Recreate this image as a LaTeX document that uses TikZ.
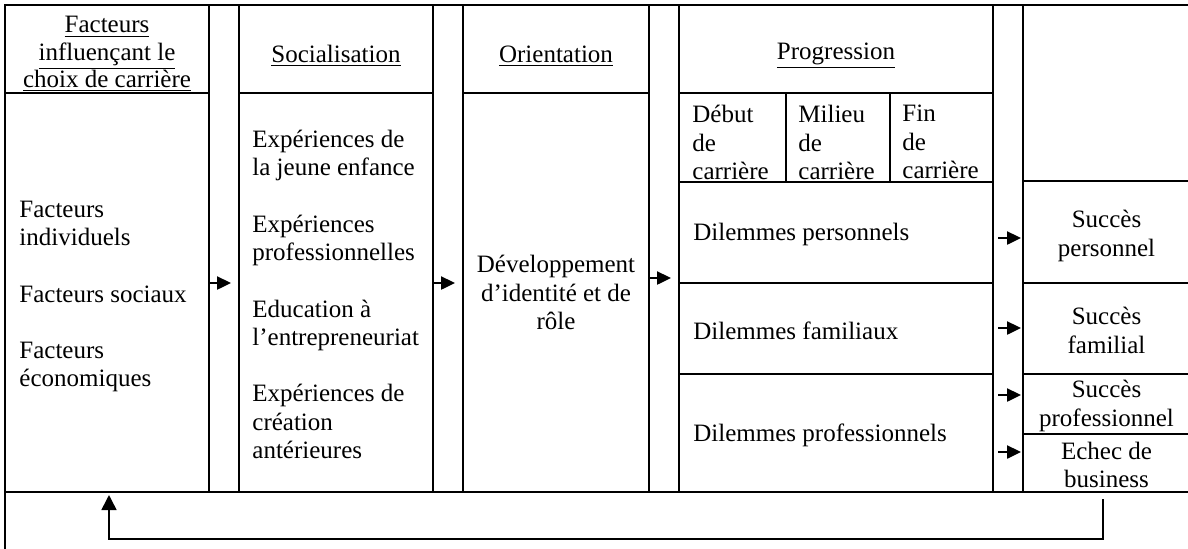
\documentclass[tikz,border=0pt]{standalone}
\usepackage{fontspec}
\setmainfont{Liberation Serif}
\usetikzlibrary{fit,arrows.meta}

\tikzset{
  box/.style={draw=black, line width=1.3pt, inner sep=0pt, outer sep=0pt},
  txt/.style={inner sep=0pt, font=\fontsize{12.5}{14.2}\selectfont},
  arr/.style={line width=1.2pt, -{Triangle[length=7pt,width=6.5pt]}},
  back/.style={line width=0.8pt, -{Triangle[length=7.5pt,width=7.5pt]}}
}

\begin{document}
\begin{tikzpicture}[x=0.5pt,y=-0.5pt]
\clip (0,0) rectangle (1188,548);
% outer frame (right and bottom sides fall outside the page)
\draw[line width=1.3pt] (5,5) rectangle (1190,552);

% columns
\node[box, fit={(5,5) (209,93)}] (fachead) {};
\node[box, fit={(5,93) (209,492)}] (facbody) {};
\node[box, fit={(239,5) (433,93)}] (sochead) {};
\node[box, fit={(239,93) (433,492)}] (socbody) {};
\node[box, fit={(463,5) (649,93)}] (orihead) {};
\node[box, fit={(463,93) (649,492)}] (oribody) {};
\node[box, fit={(679,5) (993,93)}] (proghead) {};
\node[box, fit={(679,93) (786,182)}] (deb) {};
\node[box, fit={(786,93) (890,182)}] (mil) {};
\node[box, fit={(890,93) (993,182)}] (fin) {};
\node[box, fit={(679,182) (993,283)}] (dper) {};
\node[box, fit={(679,283) (993,374)}] (dfam) {};
\node[box, fit={(679,374) (993,492)}] (dpro) {};
\node[box, fit={(1023,5) (1190,181)}] (restop) {};
\node[box, fit={(1023,181) (1190,283)}] (sper) {};
\node[box, fit={(1023,283) (1190,374)}] (sfam) {};
\node[box, fit={(1023,374) (1190,434)}] (spro) {};
\node[box, fit={(1023,434) (1190,492)}] (ech) {};
\node[box, fit={(5,492) (1190,552)}] (loop) {};

% headers
\node[txt, align=center, font=\fontsize{12.5}{13.6}\selectfont] (facheadtxt) at ([yshift=-2.5pt]fachead) {\underline{Facteurs}\\\underline{influençant le}\\\underline{choix de carrière}};
\node[txt] (socheadtxt) at ([yshift=-3.5pt]sochead) {\underline{Socialisation}};
\node[txt] (oriheadtxt) at ([yshift=-3.5pt]orihead) {\underline{Orientation}};
\node[txt] (progheadtxt) at ([yshift=-3.5pt]proghead) {\underline{Progression}};

% career stages
\node[txt, align=left, anchor=north west] (debtxt) at ([xshift=6.5pt,yshift=-6pt]deb.north west) {Début\\de\\carrière};
\node[txt, align=left, anchor=north west] (miltxt) at ([xshift=6pt,yshift=-6pt]mil.north west) {Milieu\\de\\carrière};
\node[txt, align=left, anchor=north west] (fintxt) at ([xshift=6pt,yshift=-6pt]fin.north west) {Fin\\de\\carrière};

% bodies
\node[txt, align=left, anchor=west] (facbodytxt) at ([xshift=7pt,yshift=-2pt]facbody.west) {Facteurs\\individuels\\[14pt]Facteurs sociaux\\[14pt]Facteurs\\économiques};
\node[txt, align=left, anchor=west] (socbodytxt) at ([xshift=6.5pt,yshift=-1pt]socbody.west) {Expériences de\\la jeune enfance\\[14pt]Expériences\\professionnelles\\[14pt]Education à\\l’entrepreneuriat\\[14pt]Expériences de\\création\\antérieures};
\node[txt, align=center] (oribodytxt) at (oribody) {Développement\\d’identité et de\\rôle};

\node[txt, anchor=west] (dpertxt) at ([xshift=7pt,yshift=-1pt]dper.west) {Dilemmes personnels};
\node[txt, anchor=west] (dfamtxt) at ([xshift=7pt,yshift=-1pt]dfam.west) {Dilemmes familiaux};
\node[txt, anchor=west] (dprotxt) at ([xshift=7pt,yshift=-1pt]dpro.west) {Dilemmes professionnels};

\node[txt, align=center] (spertxt) at ([yshift=-2pt]sper) {Succès\\personnel};
\node[txt, align=center] (sfamtxt) at ([yshift=-1pt]sfam) {Succès\\familial};
\node[txt, align=center] (sprotxt) at ([yshift=-1pt]spro) {Succès\\professionnel};
\node[txt, align=center] (echtxt) at ([yshift=-1pt]ech) {Echec de\\business};

% arrows between stages
\draw[arr, shorten >=4pt] (facbody.east |- dper.south) -- (socbody.west |- dper.south);
\draw[arr, shorten >=4pt] (socbody.east |- dper.south) -- (oribody.west |- dper.south);
\draw[arr, shorten >=4pt] (oribody.east |- 0,278) -- (dper.west |- 0,278);
\draw[arr, shorten <=2.5pt, shorten >=1pt] (dper.east |- 0,238) -- (sper.west |- 0,238);
\draw[arr, shorten <=2.5pt, shorten >=1pt] (dfam.east |- 0,328) -- (sfam.west |- 0,328);
\draw[arr, shorten <=2.5pt, shorten >=1pt] (dpro.east |- 0,395) -- (spro.west |- 0,395);
\draw[arr, shorten <=2.5pt, shorten >=1pt] (dpro.east |- 0,452) -- (ech.west |- 0,452);

% feedback loop
\coordinate (fbstart) at (1103,499);
\coordinate (fbend) at (109,495);
\draw[back] (fbstart) -- ++(0,40) -| (fbend);
\end{tikzpicture}
\end{document}
